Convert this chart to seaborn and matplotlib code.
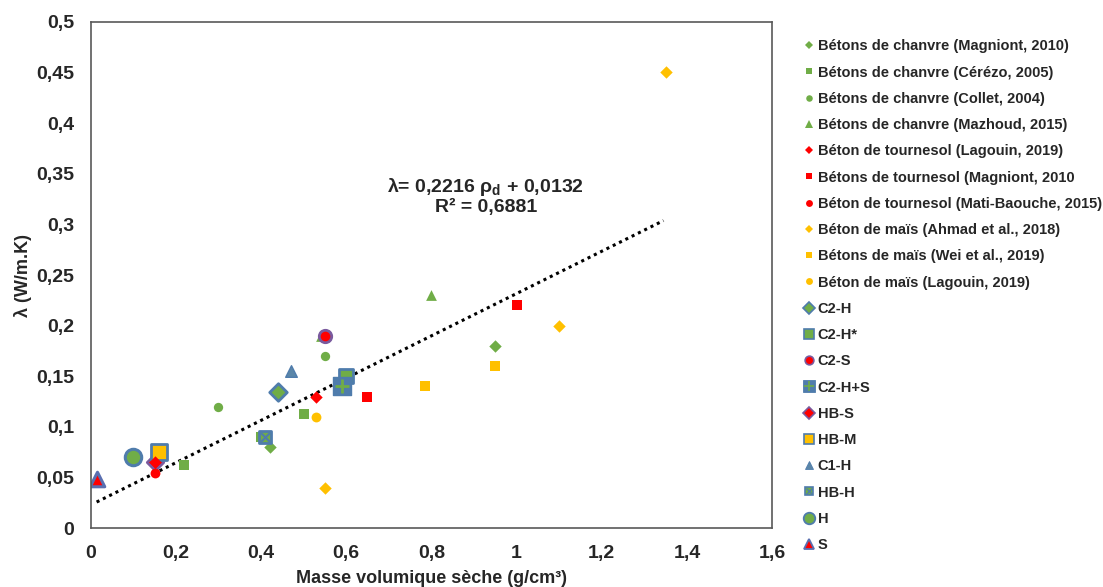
import numpy as np
import seaborn as sns
import matplotlib.pyplot as plt

# data
magniont_chanvre_x = [0.42, 0.95]
magniont_chanvre_y = [0.08, 0.18]
cerezo_x = [0.22, 0.40, 0.50]
cerezo_y = [0.062, 0.09, 0.113]
collet_x = [0.30, 0.55]
collet_y = [0.12, 0.17]
mazhoud_x = [0.54, 0.80]
mazhoud_y = [0.19, 0.23]
lagouin_tournesol_x = [0.15, 0.53]
lagouin_tournesol_y = [0.065, 0.13]
magniont_tournesol_x = [0.65, 1.00]
magniont_tournesol_y = [0.13, 0.22]
mati_x = [0.15]
mati_y = [0.055]
ahmad_x = [0.55, 1.10, 1.35]
ahmad_y = [0.04, 0.20, 0.45]
wei_x = [0.785, 0.95]
wei_y = [0.14, 0.16]
lagouin_mais_x = [0.53]
lagouin_mais_y = [0.11]

c2h = (0.44, 0.135)
c2h_star = (0.60, 0.15)
c2s = (0.55, 0.19)
c2hs = (0.59, 0.14)
hbs = (0.15, 0.065)
hbm = (0.16, 0.075)
c1h = (0.47, 0.155)
hbh = (0.41, 0.09)
h_pt = (0.10, 0.07)
s_pt = (0.015, 0.049)

trend_slope = 0.2087
trend_intercept = 0.023
trend_range = [0.014, 1.345]

x_ticks = [0, 0.2, 0.4, 0.6, 0.8, 1.0, 1.2, 1.4, 1.6]
y_ticks = [0, 0.05, 0.1, 0.15, 0.2, 0.25, 0.3, 0.35, 0.4, 0.45, 0.5]

GREEN = "#70AD47"
RED = "#FF0000"
YELLOW = "#FFC000"
BLUE = "#4F7CAC"
PURPLE = "#7A5A9E"

sns.set_style("white")
plt.rcParams["font.family"] = ["Liberation Sans", "DejaVu Sans"]
plt.rcParams["font.weight"] = "bold"
plt.rcParams["mathtext.fontset"] = "custom"
plt.rcParams["mathtext.bf"] = "Liberation Sans:bold"
plt.rcParams["mathtext.rm"] = "Liberation Sans:bold"

fig = plt.figure(figsize=(11.03, 5.87), dpi=100)
ax = fig.add_axes([0.0822, 0.100, 0.6178, 0.863])


def pts(x, y, marker, color, s, edge=None, lw=0, z=3):
    sns.scatterplot(x=list(x), y=list(y), marker=marker, color=color, s=s,
                    edgecolor=edge if edge else color, linewidth=lw,
                    ax=ax, zorder=z, legend=False)
    return plt.Line2D([], [], linestyle="none", marker=marker, color=color,
                      markerfacecolor=color, markeredgecolor=edge if edge else color,
                      markeredgewidth=lw * 0.6, markersize=np.sqrt(s) * 0.7)


# special samples
h1 = pts([c2h[0]], [c2h[1]], "D", GREEN, 80, BLUE, 2, z=2)
h2 = pts([c2h_star[0]], [c2h_star[1]], "s", GREEN, 90, BLUE, 2, z=2)
h3 = pts([c2s[0]], [c2s[1]], "o", RED, 80, PURPLE, 2, z=4)
h4 = pts([c2hs[0]], [c2hs[1]], "s", BLUE, 150, BLUE, 1, z=2)
h4b = pts([c2hs[0]], [c2hs[1]], "+", GREEN, 90, GREEN, 2, z=3)
h5 = pts([hbs[0]], [hbs[1]], "D", RED, 70, PURPLE, 2, z=2)
h6 = pts([hbm[0]], [hbm[1]], "s", YELLOW, 120, BLUE, 2, z=2)
h7 = pts([c1h[0]], [c1h[1]], "^", "#5B86A8", 70, BLUE, 1, z=2)
h8 = pts([hbh[0]], [hbh[1]], "s", GREEN, 80, BLUE, 2, z=4)
h8b = pts([hbh[0]], [hbh[1]], "x", BLUE, 40, BLUE, 1.5, z=5)
h9 = pts([h_pt[0]], [h_pt[1]], "o", GREEN, 140, BLUE, 2.2, z=2)
h10 = pts([s_pt[0]], [s_pt[1]], "^", RED, 110, "#5A6FB0", 2.2, z=2)

# literature data
l1 = pts(magniont_chanvre_x, magniont_chanvre_y, "D", GREEN, 40)
l2 = pts(cerezo_x, cerezo_y, "s", GREEN, 45)
l3 = pts(collet_x, collet_y, "o", GREEN, 45)
l4 = pts(mazhoud_x, mazhoud_y, "^", GREEN, 60)
l5 = pts(lagouin_tournesol_x, lagouin_tournesol_y, "D", RED, 40)
l6 = pts(magniont_tournesol_x, magniont_tournesol_y, "s", RED, 50)
l7 = pts(mati_x, mati_y, "o", RED, 50)
l8 = pts(ahmad_x, ahmad_y, "D", YELLOW, 40)
l9 = pts(wei_x, wei_y, "s", YELLOW, 50)
l10 = pts(lagouin_mais_x, lagouin_mais_y, "o", YELLOW, 50)

# trend line
tx = np.array(trend_range)
ax.plot(tx, trend_slope * tx + trend_intercept, color="black",
        linestyle=(0, (1, 1.3)), linewidth=2.2, zorder=1)

ax.text(0.928, 0.328, "λ= 0,2216 ρ$_\\mathbf{d}$ + 0,0132\nR² = 0,6881",
        ha="center", va="center", fontsize=14, fontweight="bold",
        linespacing=1.0)

ax.set_xlim(0, 1.6)
ax.set_ylim(0, 0.5)
ax.set_xticks(x_ticks)
ax.set_yticks(y_ticks)
ax.set_xticklabels([("%g" % v).replace(".", ",") for v in x_ticks],
                   fontsize=14, fontweight="bold")
ax.set_yticklabels([("%g" % v).replace(".", ",") for v in y_ticks],
                   fontsize=14, fontweight="bold")
ax.tick_params(axis="x", direction="out", length=6, width=1, color="#595959", pad=6)
ax.tick_params(axis="y", direction="inout", length=10, width=1, color="#595959", pad=7)
for sp in ax.spines.values():
    sp.set_color("#595959")
    sp.set_linewidth(1.2)

ax.set_xlabel("Masse volumique sèche (g/cm³)", fontsize=13, fontweight="bold", labelpad=6)
ax.set_ylabel("λ (W/m.K)", fontsize=13, fontweight="bold", labelpad=3)

handles = [l1, l2, l3, l4, l5, l6, l7, l8, l9, l10,
           h1, h2, h3, (h4, h4b), h5, h6, h7, (h8, h8b), h9, h10]
labels = ["Bétons de chanvre (Magniont, 2010)",
          "Bétons de chanvre (Cérézo, 2005)",
          "Bétons de chanvre (Collet, 2004)",
          "Bétons de chanvre (Mazhoud, 2015)",
          "Béton de tournesol (Lagouin, 2019)",
          "Bétons de tournesol (Magniont, 2010",
          "Béton de tournesol (Mati-Baouche, 2015)",
          "Béton de maïs (Ahmad et al., 2018)",
          "Bétons de maïs (Wei et al., 2019)",
          "Béton de maïs (Lagouin, 2019)",
          "C2-H", "C2-H*", "C2-S", "C2-H+S", "HB-S", "HB-M",
          "C1-H", "HB-H", "H", "S"]
fig.legend(handles, labels, loc="upper left", bbox_to_anchor=(0.7235, 0.943),
           frameon=False, prop={"weight": "bold", "size": 10.5},
           handlelength=0.7, handletextpad=0.25, labelspacing=0.84,
           borderaxespad=0)

plt.savefig("out.png", dpi=100)
